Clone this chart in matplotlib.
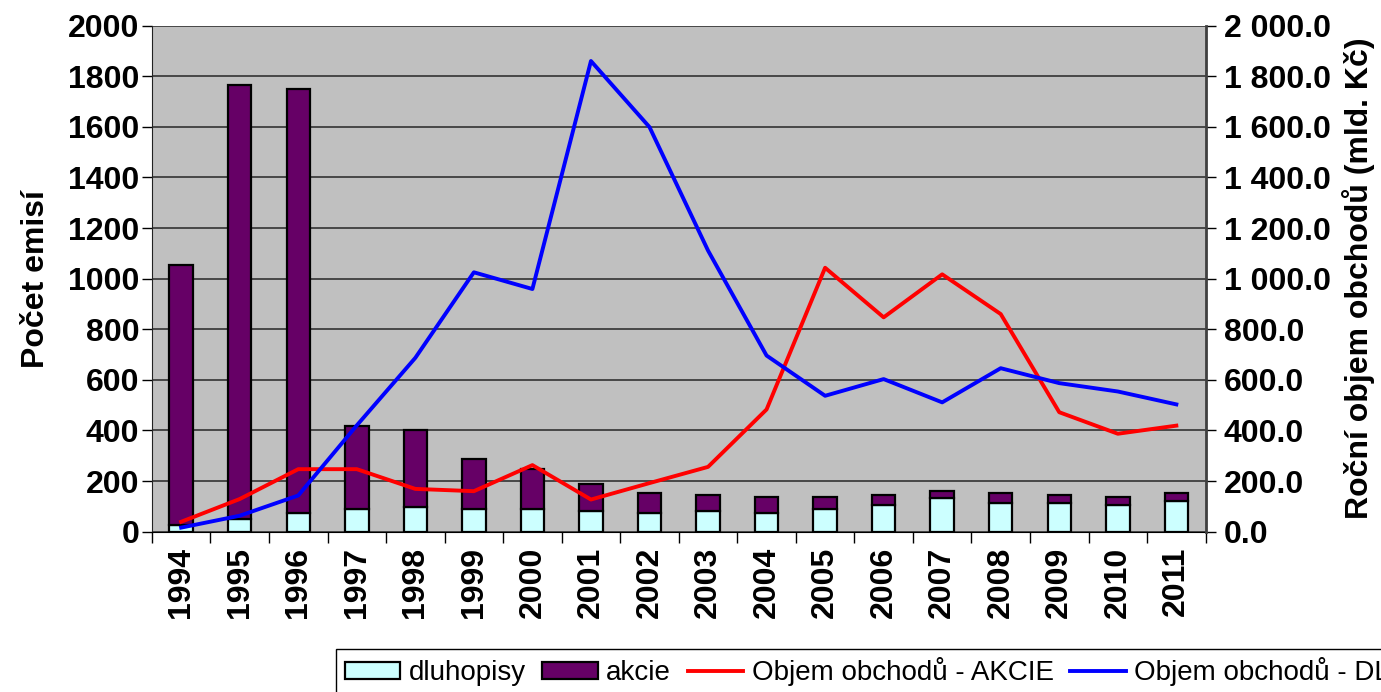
import numpy as np
import matplotlib.pyplot as plt
from matplotlib.ticker import FuncFormatter, MultipleLocator

plt.rcParams['font.family'] = ['Liberation Sans', 'DejaVu Sans']

years = [str(y) for y in range(1994, 2012)]
celkem = [1053, 1764, 1750, 419, 400, 289, 249, 187, 152, 143, 136, 136, 143, 160, 152, 143, 136, 152]
dluhopisy = [25, 49, 72, 89, 99, 89, 89, 83, 72, 80, 72, 89, 107, 132, 113, 113, 107, 123]
akcie = [c - d for c, d in zip(celkem, dluhopisy)]
obj_akcie = [39, 129, 247, 247, 169, 160, 263, 127, 192, 256, 483, 1043, 847, 1017, 860, 472, 387, 419]
obj_dluhopisy = [16, 63, 143, 420, 687, 1025, 959, 1860, 1599, 1111, 696, 537, 603, 511, 646, 587, 554, 503]

fig = plt.figure(figsize=(13.81, 6.92), dpi=100)
ax = fig.add_axes([0.110, 0.2317, 0.763, 0.7313])
ax2 = ax.twinx()

x = np.arange(len(years))
ax.set_facecolor('#C0C0C0')
b1 = ax.bar(x, dluhopisy, width=0.4, color='#CCFFFF', edgecolor='black', linewidth=1.6,
            label='dluhopisy', zorder=3)
b2 = ax.bar(x, akcie, width=0.4, bottom=dluhopisy, color='#660066', edgecolor='black',
            linewidth=1.6, label='akcie', zorder=3)
l1, = ax2.plot(x, obj_akcie, color='#FF0000', lw=2.8, label='Objem obchodů - AKCIE')
l2, = ax2.plot(x, obj_dluhopisy, color='#0000FF', lw=2.8, label='Objem obchodů - DLUHOPISY')

ax.set_xlim(-0.5, len(years) - 0.5)
ax.set_ylim(0, 2000)
ax2.set_ylim(0, 2000)
ax.yaxis.set_major_locator(MultipleLocator(200))
ax2.yaxis.set_major_locator(MultipleLocator(200))
ax.yaxis.grid(True, color='#333333', lw=1.2, zorder=1)
ax.set_axisbelow(True)

ax.set_xticks(x)
ax.set_xticklabels(years, rotation=90, fontsize=23, fontweight='bold')
ax.set_xticks(np.arange(-0.5, len(years)), minor=True)
ax.tick_params(axis='x', which='major', length=0, pad=11)
ax.tick_params(axis='x', which='minor', length=8, width=1, color='black')
ax.tick_params(axis='y', labelsize=23, length=7, width=1, pad=2)
for t in ax.get_yticklabels():
    t.set_fontweight('bold')

fmt = FuncFormatter(lambda v, p: '{:,.1f}'.format(v).replace(',', ' '))
ax2.yaxis.set_major_formatter(fmt)
ax2.tick_params(axis='y', labelsize=23, length=7, width=1, pad=6)
for t in ax2.get_yticklabels():
    t.set_fontweight('bold')

for a in (ax, ax2):
    a.spines['top'].set_visible(False)
ax2.spines['left'].set_visible(False)
ax2.spines['bottom'].set_visible(False)
ax.spines['right'].set_visible(False)
ax2.spines['right'].set_color('#404040')
ax2.spines['right'].set_linewidth(2)
ax.spines['left'].set_color('#222222')

ax.set_ylabel('Počet emisí', fontsize=23, fontweight='bold', labelpad=12)
ax2.set_ylabel('Roční objem obchodů (mld. Kč)', fontsize=23, fontweight='bold', labelpad=8)

leg = fig.legend(handles=[b1, b2, l1, l2], loc='center left', bbox_to_anchor=(0.2435, 0.029),
                 ncol=4, fontsize=20, frameon=True, fancybox=False, edgecolor='black',
                 framealpha=1, handlelength=2.0, handletextpad=0.3, columnspacing=0.6,
                 borderpad=0.3, borderaxespad=0, handleheight=0.55)
leg.get_frame().set_linewidth(1)

fig.savefig('out.png', dpi=100)
